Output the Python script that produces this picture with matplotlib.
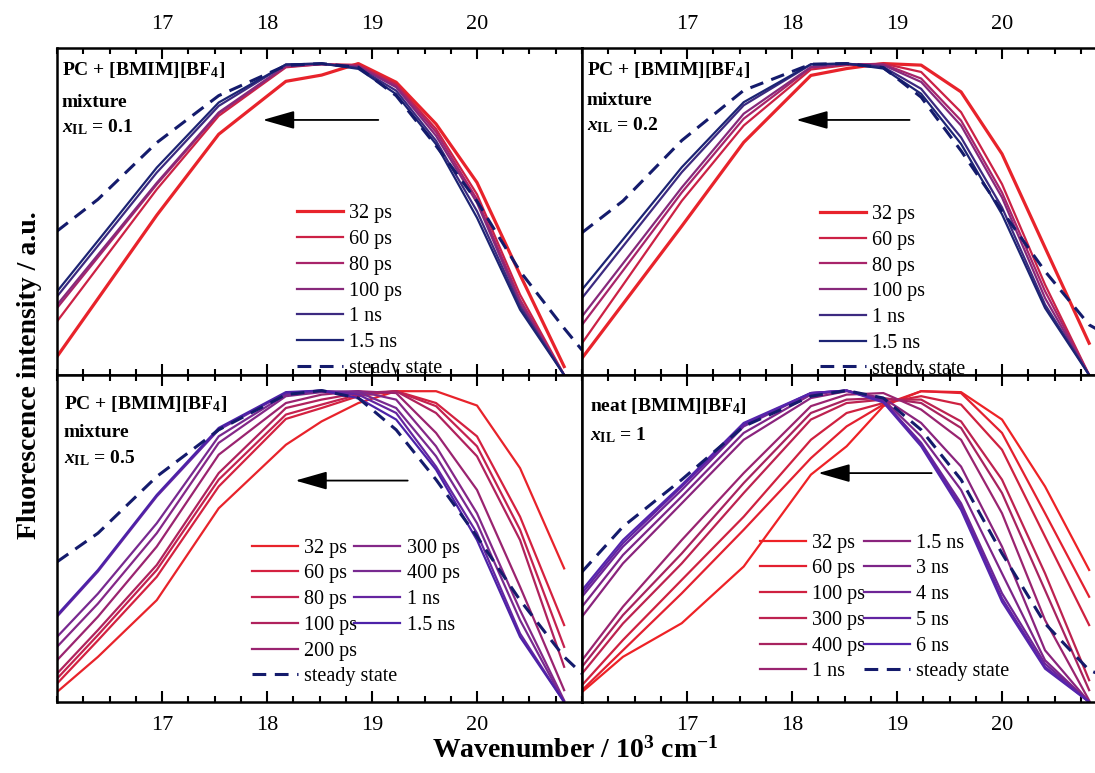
import matplotlib
matplotlib.use("Agg")
import matplotlib.pyplot as plt
from matplotlib.legend import Legend
from matplotlib.ticker import MultipleLocator

plt.rcParams['font.family'] = 'Liberation Serif'
plt.rcParams['mathtext.fontset'] = 'custom'
plt.rcParams['mathtext.rm'] = 'Liberation Serif:bold'
plt.rcParams['mathtext.it'] = 'Liberation Serif:italic:bold'
plt.rcParams['mathtext.bf'] = 'Liberation Serif:bold'

# wavenumber grid, 10^3 cm-1
wn = [16.0, 16.39, 16.95, 17.54, 18.18, 18.52, 18.87, 19.23, 19.61, 20.0, 20.41, 20.83]
wn_ss = wn + [21.0]

# PC + [BMIM][BF4], x_IL = 0.1
labels_a = ['32 ps', '60 ps', '80 ps', '100 ps', '1 ns', '1.5 ns']
spec_a = [
    [0.059, 0.245, 0.513, 0.773, 0.943, 0.963, 1.0, 0.94, 0.806, 0.618, 0.322, 0.027],
    [0.172, 0.346, 0.596, 0.832, 0.988, 0.998, 0.996, 0.934, 0.79, 0.58, 0.258, 0.0],
    [0.215, 0.378, 0.612, 0.84, 0.99, 0.998, 0.993, 0.929, 0.78, 0.564, 0.242, 0.0],
    [0.225, 0.386, 0.617, 0.843, 0.993, 0.998, 0.99, 0.924, 0.768, 0.553, 0.231, 0.0],
    [0.252, 0.415, 0.65, 0.864, 0.997, 1.0, 0.986, 0.913, 0.752, 0.526, 0.22, 0.0],
    [0.268, 0.431, 0.666, 0.875, 0.997, 1.0, 0.983, 0.902, 0.741, 0.505, 0.21, 0.0],
]
ss_a = [0.462, 0.564, 0.746, 0.897, 0.994, 1.0, 0.988, 0.897, 0.736, 0.558, 0.333, 0.15, 0.08]
colors_a = ['#e8232b', '#cc2145', '#a8246a', '#87297b', '#3c2a80', '#1c2474']

# PC + [BMIM][BF4], x_IL = 0.2
labels_b = ['32 ps', '60 ps', '80 ps', '100 ps', '1 ns', '1.5 ns']
spec_b = [
    [0.054, 0.228, 0.478, 0.747, 0.962, 0.984, 1.0, 0.995, 0.909, 0.71, 0.409, 0.102],
    [0.102, 0.289, 0.559, 0.801, 0.981, 0.995, 1.0, 0.973, 0.844, 0.613, 0.29, 0.0],
    [0.161, 0.335, 0.586, 0.823, 0.987, 0.998, 0.998, 0.952, 0.817, 0.586, 0.269, 0.0],
    [0.188, 0.358, 0.602, 0.839, 0.989, 0.998, 0.995, 0.941, 0.801, 0.57, 0.247, 0.0],
    [0.247, 0.413, 0.651, 0.866, 0.997, 1.0, 0.989, 0.919, 0.763, 0.538, 0.226, 0.0],
    [0.274, 0.435, 0.667, 0.876, 0.998, 1.0, 0.984, 0.903, 0.742, 0.516, 0.215, 0.0],
]
ss_b = [0.457, 0.559, 0.753, 0.914, 0.998, 1.0, 0.987, 0.892, 0.72, 0.527, 0.333, 0.161, 0.129]
colors_b = ['#e8232b', '#cc2145', '#a8246a', '#87297b', '#3c2a80', '#1c2474']

# PC + [BMIM][BF4], x_IL = 0.5
labels_c = ['32 ps', '60 ps', '80 ps', '100 ps', '200 ps', '300 ps', '400 ps', '1 ns', '1.5 ns']
spec_c = [
    [0.032, 0.145, 0.327, 0.622, 0.826, 0.901, 0.96, 0.998, 0.998, 0.952, 0.751, 0.429],
    [0.059, 0.198, 0.402, 0.692, 0.909, 0.944, 0.982, 0.998, 0.96, 0.853, 0.595, 0.247],
    [0.075, 0.215, 0.424, 0.714, 0.923, 0.955, 0.987, 0.998, 0.95, 0.821, 0.553, 0.177],
    [0.091, 0.231, 0.44, 0.735, 0.944, 0.971, 0.992, 0.998, 0.928, 0.789, 0.52, 0.113],
    [0.134, 0.274, 0.499, 0.794, 0.96, 0.987, 0.998, 0.992, 0.864, 0.681, 0.37, 0.038],
    [0.177, 0.316, 0.542, 0.832, 0.982, 0.995, 0.998, 0.971, 0.821, 0.606, 0.295, 0.005],
    [0.209, 0.348, 0.574, 0.853, 0.987, 0.998, 0.995, 0.944, 0.789, 0.574, 0.263, 0.0],
    [0.274, 0.419, 0.66, 0.874, 0.992, 1.0, 0.987, 0.928, 0.756, 0.542, 0.22, 0.0],
    [0.279, 0.424, 0.665, 0.88, 0.995, 1.0, 0.976, 0.907, 0.746, 0.52, 0.209, 0.0],
]
ss_c = [0.45, 0.542, 0.724, 0.874, 0.987, 1.0, 0.976, 0.874, 0.714, 0.531, 0.327, 0.145, 0.091]
colors_c = ['#e8232b', '#d42140', '#c42250', '#b0225d', '#9a2470', '#842888',
            '#782a90', '#6525a0', '#4c22a8']

# neat [BMIM][BF4], x_IL = 1
labels_d = ['32 ps', '60 ps', '100 ps', '300 ps', '400 ps', '1 ns',
            '1.5 ns', '3 ns', '4 ns', '5 ns', '6 ns']
spec_d = [
    [0.032, 0.145, 0.253, 0.435, 0.73, 0.821, 0.95, 0.998, 0.995, 0.907, 0.692, 0.424],
    [0.038, 0.166, 0.349, 0.553, 0.783, 0.885, 0.955, 0.998, 0.992, 0.864, 0.606, 0.338],
    [0.054, 0.199, 0.392, 0.595, 0.842, 0.928, 0.96, 0.982, 0.955, 0.81, 0.531, 0.247],
    [0.091, 0.252, 0.445, 0.671, 0.907, 0.96, 0.971, 0.971, 0.901, 0.714, 0.413, 0.07],
    [0.113, 0.279, 0.477, 0.703, 0.928, 0.971, 0.976, 0.96, 0.88, 0.671, 0.359, 0.038],
    [0.134, 0.306, 0.52, 0.735, 0.95, 0.987, 0.992, 0.939, 0.842, 0.606, 0.263, 0.005],
    [0.274, 0.445, 0.638, 0.842, 0.976, 0.998, 0.976, 0.896, 0.756, 0.499, 0.166, 0.0],
    [0.306, 0.472, 0.66, 0.864, 0.987, 1.0, 0.971, 0.853, 0.681, 0.413, 0.134, 0.0],
    [0.338, 0.499, 0.681, 0.885, 0.992, 1.0, 0.966, 0.832, 0.638, 0.349, 0.123, 0.0],
    [0.349, 0.51, 0.692, 0.891, 0.992, 1.0, 0.966, 0.826, 0.628, 0.333, 0.113, 0.0],
    [0.359, 0.52, 0.697, 0.896, 0.992, 1.0, 0.962, 0.821, 0.617, 0.322, 0.107, 0.0],
]
ss_d = [0.418, 0.563, 0.714, 0.885, 0.982, 1.0, 0.976, 0.874, 0.714, 0.477, 0.252, 0.102, 0.08]
colors_d = ['#ee2226', '#e32030', '#cf2140', '#bd2250', '#a8235f', '#9a2470',
            '#8a247d', '#7d2588', '#6e2596', '#6224a2', '#5525ad']

ss_color = '#141b6c'


def draw_panel(ax, spectra, labels, colors, ss, thick_first):
    lines = []
    for i, (y, lab, c) in enumerate(zip(spectra, labels, colors)):
        lw = 2.3 if (i == 0 and thick_first) else 1.6
        ln, = ax.plot(wn, y, color=c, lw=lw, label=lab)
        lines.append(ln)
    ss_line, = ax.plot(wn_ss, ss, color=ss_color, lw=2.2, dashes=(4.5, 2.8),
                       label='steady state')
    return lines, ss_line


def add_legend(ax, handles, x, y):
    # Legend object added directly so that each one is drawn only once
    leg = Legend(ax, handles, [h.get_label() for h in handles],
                 loc='upper left', bbox_to_anchor=(x, y), frameon=False,
                 prop={'family': 'Liberation Serif', 'weight': 'normal', 'size': 14.5},
                 handlelength=2.3, handletextpad=0.3, labelspacing=0.33,
                 borderpad=0, borderaxespad=0)
    ax.add_artist(leg)


def style_axes(ax, top_labels):
    ax.set_xlim(16.0, 21.0)
    ax.set_ylim(0, 1.05)
    ax.set_yticks([])
    ax.set_xticks([17, 18, 19, 20])
    ax.xaxis.set_minor_locator(MultipleLocator(0.25))
    ax.tick_params(axis='x', which='both', direction='in', top=True, bottom=True,
                   labeltop=top_labels, labelbottom=not top_labels,
                   labelsize=16, pad=10, width=1.5)
    ax.tick_params(axis='x', which='major', length=8)
    ax.tick_params(axis='x', which='minor', length=4.5)
    for s in ax.spines.values():
        s.set_linewidth(1.8)


def add_text(ax, lines, x, ys):
    for t, y in zip(lines, ys):
        ax.text(x, y, t, transform=ax.transAxes, fontsize=14, fontweight='bold',
                ha='left', va='baseline')


def add_arrow(ax, head, tail, y):
    ax.annotate('', xy=(head, y), xytext=(tail, y),
                arrowprops=dict(arrowstyle='-|>,head_length=0.7,head_width=0.2',
                                color='black', lw=1.3, mutation_scale=28,
                                shrinkA=0, shrinkB=0))


fig = plt.figure(figsize=(10.95, 7.73), dpi=100)
W, H = 1095, 773
pw, ph = 525 / W, 327 / H
ax1 = fig.add_axes([57 / W, (H - 375) / H, pw, ph])
ax2 = fig.add_axes([582 / W, (H - 375) / H, pw, ph])
ax3 = fig.add_axes([57 / W, (H - 702) / H, pw, ph])
ax4 = fig.add_axes([582 / W, (H - 702) / H, pw, ph])

# panel a
l, s = draw_panel(ax1, spec_a, labels_a, colors_a, ss_a, True)
add_legend(ax1, l + [s], 0.457, 0.522)
add_text(ax1, ['PC + [BMIM][BF$_4$]', 'mixture', '$x_{\\mathrm{IL}}$ = 0.1'],
         0.009, [0.916, 0.82, 0.743])
add_arrow(ax1, 17.96, 19.06, 0.819)
style_axes(ax1, True)

# panel b
l, s = draw_panel(ax2, spec_b, labels_b, colors_b, ss_b, True)
add_legend(ax2, l + [s], 0.453, 0.52)
add_text(ax2, ['PC + [BMIM][BF$_4$]', 'mixture', '$x_{\\mathrm{IL}}$ = 0.2'],
         0.009, [0.917, 0.826, 0.747])
add_arrow(ax2, 18.04, 19.12, 0.819)
style_axes(ax2, True)

# panel c
l, s = draw_panel(ax3, spec_c, labels_c, colors_c, ss_c, False)
add_legend(ax3, l[:5] + [s], 0.371, 0.5)
add_legend(ax3, l[5:], 0.566, 0.5)
add_text(ax3, ['PC + [BMIM][BF$_4$]', 'mixture', '$x_{\\mathrm{IL}}$ = 0.5'],
         0.013, [0.897, 0.809, 0.731])
add_arrow(ax3, 18.27, 19.34, 0.711)
style_axes(ax3, False)

# panel d
l, s = draw_panel(ax4, spec_d, labels_d, colors_d, ss_d, False)
add_legend(ax4, l[:6], 0.339, 0.515)
add_legend(ax4, l[6:] + [s], 0.537, 0.515)
add_text(ax4, ['neat [BMIM][BF$_4$]', '$x_{\\mathrm{IL}}$ = 1'],
         0.015, [0.89, 0.801])
add_arrow(ax4, 18.25, 19.33, 0.735)
style_axes(ax4, False)

fig.text(30 / W, (H - 375) / H, 'Fluorescence intensity / a.u.', rotation=90,
         fontsize=20, fontweight='bold', ha='center', va='center')
fig.text(575 / W, (H - 750) / H, 'Wavenumber / 10$^3$ cm$^{-1}$',
         fontsize=20, fontweight='bold', ha='center', va='center')

fig.savefig('out.png', dpi=100)
